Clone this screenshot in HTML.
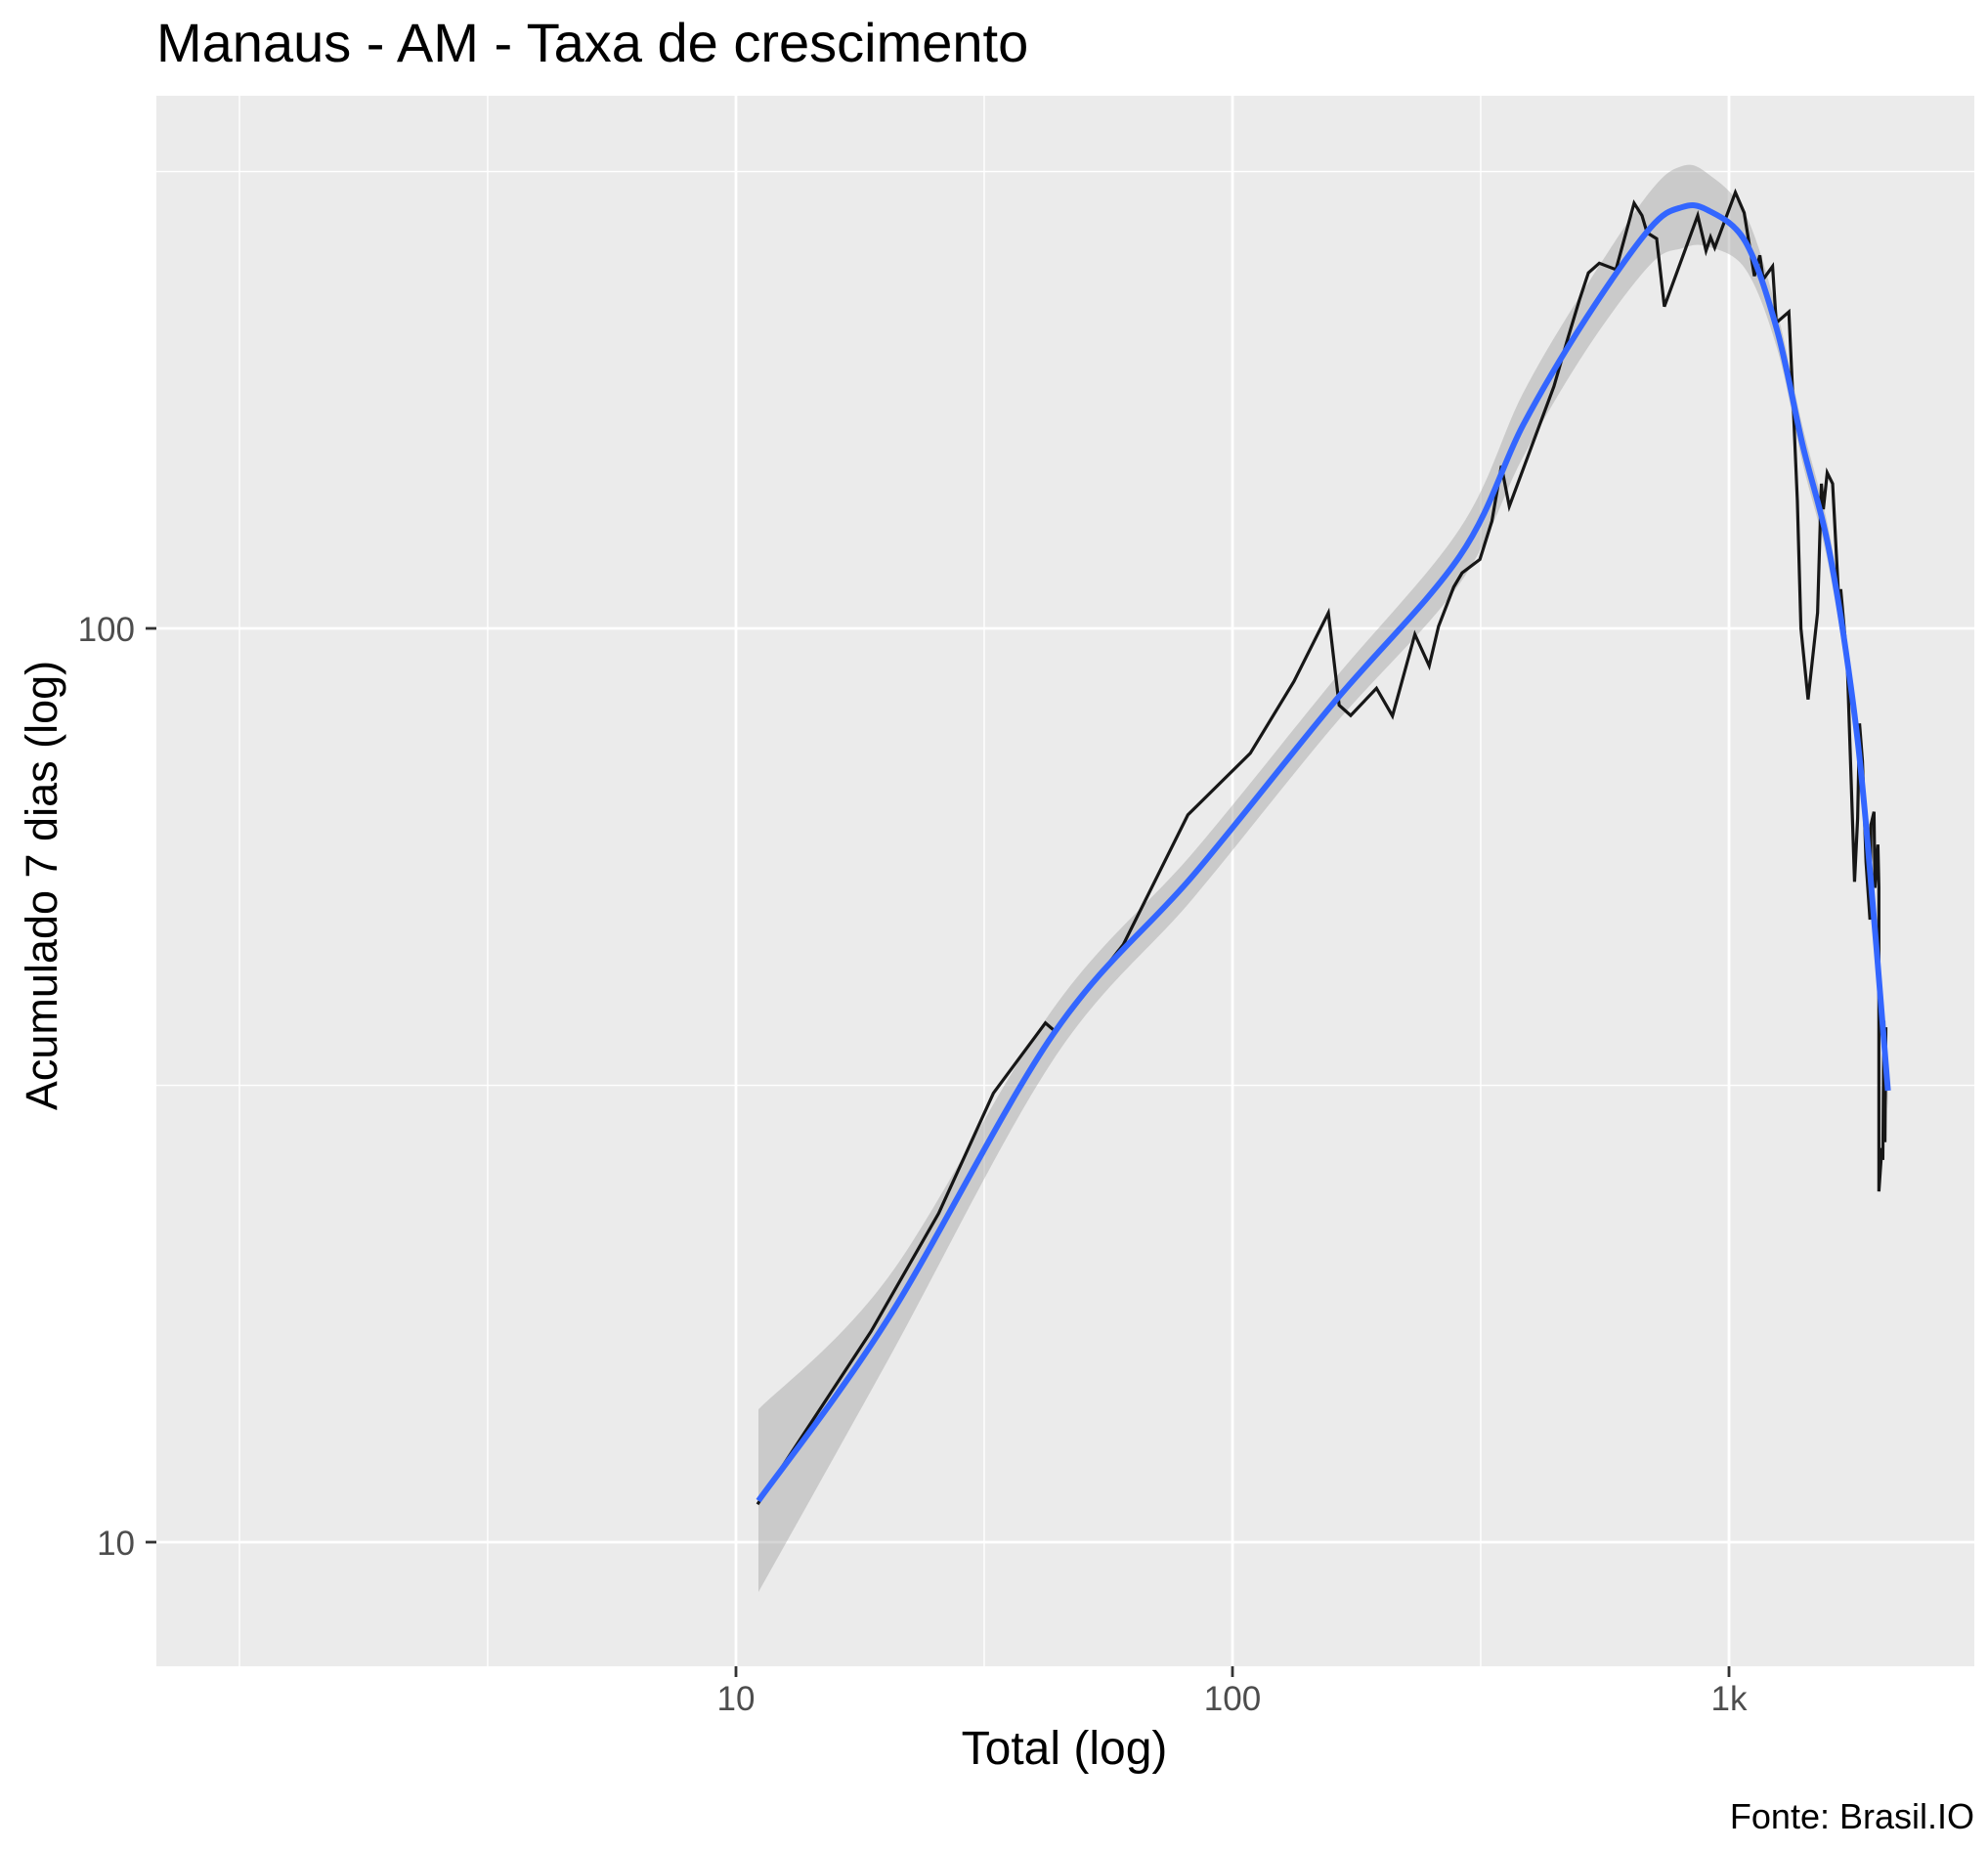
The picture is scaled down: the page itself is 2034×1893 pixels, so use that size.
<!DOCTYPE html>
<html><head><meta charset="utf-8"><style>
html,body{margin:0;padding:0;background:#fff;}
svg{display:block;font-family:"Liberation Sans",Arial,sans-serif;}
</style></head><body>
<svg id="chart" width="2034" height="1893" viewBox="0 0 2034 1893">
<text x="160" y="63" font-size="56" fill="#000">Manaus - AM - Taxa de crescimento</text>
<rect x="160" y="98" width="1860" height="1607" fill="#ebebeb"/>
<g id="grid"></g>
<g id="ribbon"></g>
<g id="series"></g>
<g id="axes"></g>
<text x="1089" y="1805" font-size="48" text-anchor="middle" fill="#000">Total (log)</text>
<text transform="translate(58,906) rotate(-90)" font-size="45" text-anchor="middle" fill="#000">Acumulado 7 dias (log)</text>
<text x="2020" y="1871" font-size="36" text-anchor="end" fill="#000">Fonte: Brasil.IO</text>
</svg>
<script>
const totals = [11.05,18.7,25.6,33,42,44,60.3,81.3,108.6,133,156,164,173,195,210,233,249,260,279,290,315,333,348,361,444,474,500,521,548,592,644,668,684,715,741,865,899,918,936,1030,1073,1125,1154,1172,1224,1245,1320,1343,1373,1396,1443,1508,1535,1549,1577,1617,1660,1680,1730,1790,1816,1832,1857,1888,1923,1932,1959,1968,1995,2004,2004,2032,2041,2051,2061,2070];
const weekly = [11,17,22.9,31,37,36.2,45.1,62.5,73,87.5,104,82.4,80.3,86,80.2,98.5,91,100.5,111,115,119,131,150.6,136,184,208,229,245,251,247,292,283,271,267,225,283,259,268,261,300,285,243,256,241,249,216,222,182,138,100,83.6,104,144,135,148,144,110,110,92,52.8,62,78.7,71.6,55.5,48,61,63,52,58,52,24.2,27,26.2,37.2,27.4,36.6];
const smoothX = [11.1,20.3,43.6,83.4,159,287,385,517,693,804,905,1079,1250,1406,1585,1758,1888,2090];
const smoothY = [11.1,17.6,36.0,53.7,82.6,120,167,219,274,289,287,265,212,159,123,86.7,61,31.2];
const smoothSe = [0.1,0.045,0.028,0.025,0.025,0.03,0.035,0.035,0.04,0.045,0.04,0.03,0.02,0.02,0.02,0.02,0.02,0.02];
const xTicks = [10,100,1000];
const xTickLabels = ["10","100","1k"];
const yTicks = [10,100];
const yTickLabels = ["10","100"];
const xMinor = [1,3.162,31.62,316.2];
const yMinor = [31.62,316.2];

const NS="http://www.w3.org/2000/svg";
const X = v => 753 + 508*(Math.log10(v)-1);
const Y = v => 1578 - 935*(Math.log10(v)-1);
const YL = l => 1578 - 935*(l-1);
function mk(tag, attrs, parent){const e=document.createElementNS(NS,tag);for(const k in attrs)e.setAttribute(k,attrs[k]);parent.appendChild(e);return e;}
const grid=document.getElementById('grid'), axes=document.getElementById('axes');
xMinor.forEach(v=>{const e=mk('line',{x1:X(v),x2:X(v),y1:98,y2:1705,stroke:'#fff','stroke-width':1.4},grid);

});
yMinor.forEach(v=>{const e=mk('line',{x1:160,x2:2020,y1:Y(v),y2:Y(v),stroke:'#fff','stroke-width':1.4},grid);

});
xTicks.forEach((v,i)=>{const e=mk('line',{x1:X(v),x2:X(v),y1:98,y2:1705,stroke:'#fff','stroke-width':2.8},grid);


const t=mk('line',{x1:X(v),x2:X(v),y1:1705,y2:1716,stroke:'#333','stroke-width':2.8},axes);


const l=mk('text',{x:X(v),y:1750,'font-size':35,'text-anchor':'middle',fill:'#4d4d4d'},axes);l.textContent=xTickLabels[i];

});
yTicks.forEach((v,i)=>{const e=mk('line',{x1:160,x2:2020,y1:Y(v),y2:Y(v),stroke:'#fff','stroke-width':2.8},grid);


const t=mk('line',{x1:149,x2:160,y1:Y(v),y2:Y(v),stroke:'#333','stroke-width':2.8},axes);


const l=mk('text',{x:138,y:Y(v)+13,'font-size':35,'text-anchor':'end',fill:'#4d4d4d'},axes);l.textContent=yTickLabels[i];

});

function catmull(pts){let d='M'+pts[0][0]+','+pts[0][1];
for(let i=0;i<pts.length-1;i++){const p0=pts[Math.max(0,i-1)],p1=pts[i],p2=pts[i+1],p3=pts[Math.min(pts.length-1,i+2)];
d+=' C'+(p1[0]+(p2[0]-p0[0])/6)+','+(p1[1]+(p2[1]-p0[1])/6)+' '+(p2[0]-(p3[0]-p1[0])/6)+','+(p2[1]-(p3[1]-p1[1])/6)+' '+p2[0]+','+p2[1];}
return d;}
const up=smoothX.map((x,i)=>[X(x),YL(Math.log10(smoothY[i])+smoothSe[i])]);
const lo=smoothX.map((x,i)=>[X(x),YL(Math.log10(smoothY[i])-smoothSe[i])]).reverse();
const upD=catmull(up), loD=catmull(lo).replace(/^M/,'L');
const rib=mk('path',{d:upD+' '+loD+' Z',fill:'#999','fill-opacity':0.4},document.getElementById('ribbon'));


const ser=document.getElementById('series');
const line=mk('polyline',{points:totals.map((t,i)=>X(t)+','+Y(weekly[i])).join(' '),fill:'none',stroke:'#000','stroke-width':3.2,'stroke-linejoin':'miter','stroke-opacity':0.9},ser);


const sm=mk('path',{d:catmull(smoothX.map((x,i)=>[X(x),Y(smoothY[i])])),fill:'none',stroke:'#3366FF','stroke-width':6},ser);


</script>
</body></html>
